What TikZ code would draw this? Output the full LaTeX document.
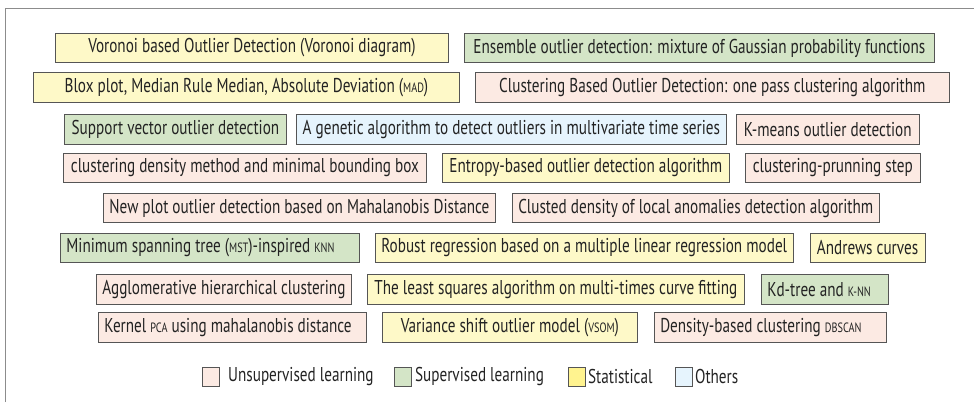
\documentclass[tikz,border=0pt]{standalone}
\usepackage{fontspec}
\setmainfont{PT Sans}[FakeStretch=0.76]
\usepackage{xcolor}
\usepackage{tikz}
\usetikzlibrary{positioning}
\definecolor{unsupcolor}{RGB}{252, 234, 227}
\definecolor{supcolor}{RGB}{212, 229, 199}
\definecolor{statcolor}{RGB}{254, 249, 200}
\definecolor{othercolor}{RGB}{230, 244, 253}
\definecolor{statkey}{RGB}{255, 243, 143}
\definecolor{boxline}{RGB}{85, 85, 85}
\definecolor{textgray}{RGB}{35, 35, 35}
\newcommand{\acr}[1]{{\fontsize{13.5}{14}\selectfont #1}}
\newcommand{\lbox}[2]{\makebox[#1][l]{#2}}

\begin{document}
\begin{tikzpicture}[
    x=1pt, y=-1pt,
    font=\fontsize{20}{21}\selectfont, text=textgray,
    algo/.style={draw=boxline, line width=0.9pt, minimum height=29.5pt, inner xsep=6pt, inner ysep=0pt, anchor=west},
    unsup/.style={algo, fill=unsupcolor},
    sup/.style={algo, fill=supcolor},
    stat/.style={algo, fill=statcolor},
    other/.style={algo, fill=othercolor},
    keybox/.style={draw=boxline, line width=0.9pt, minimum width=17pt, minimum height=19pt, inner sep=0pt, anchor=west},
    keytext/.style={anchor=west, inner sep=0pt}
]
    \useasboundingbox (0,0) rectangle (974,402);
    % Frame
    \draw[gray!90, line width=1pt] (5,402) -- (5,8) -- (974,8);

    % Row 1
    \node[stat, minimum width=393pt] (voronoi) at (55,48) {Voronoi based Outlier Detection (Voronoi diagram)};
    \node[sup, minimum width=470pt, right=15pt of voronoi] (ensemble) {Ensemble outlier detection: mixture of Gaussian probability functions};
    % Row 2
    \node[stat, minimum width=426pt] (boxplot) at (33,87.5) {Blox plot, Median Rule Median, Absolute Deviation (\acr{MAD})};
    \node[unsup, minimum width=474pt, right=15pt of boxplot] (onepass) {Clustering Based Outlier Detection: one pass clustering algorithm};
    % Row 3
    \node[sup, minimum width=222pt] (svm) at (64,129.5) {Support vector outlier detection};
    \node[other, minimum width=430pt, right=9pt of svm] (genetic) {A genetic algorithm to detect outliers in multivariate time series};
    \node[unsup, minimum width=183pt, right=9pt of genetic] (kmeans) {K-means outlier detection};
    % Row 4
    \node[unsup, minimum width=363pt] (bbox) at (63,168) {clustering density method and minimal bounding box};
    \node[stat, minimum width=287pt, right=15pt of bbox] (entropy) {Entropy-based outlier detection algorithm};
    \node[unsup, minimum width=175pt, right=15pt of entropy] (pruning) {clustering-prunning step};
    % Row 5
    \node[unsup, minimum width=391pt] (mahal) at (103,208) {New plot outlier detection based on Mahalanobis Distance};
    \node[unsup, minimum width=367pt, right=16pt of mahal] (clusted) {Clusted density of local anomalies detection algorithm};
    % Row 6
    \node[sup] (mst) at (60,248) {\lbox{287pt}{Minimum spanning tree (\acr{MST})-inspired \acr{KNN}}};
    \node[stat, minimum width=416pt, right=15pt of mst] (robust) {Robust regression based on a multiple linear regression model};
    \node[stat, minimum width=115pt, right=16pt of robust] (andrews) {Andrews curves};
    % Row 7
    \node[unsup, minimum width=255pt] (agglo) at (96,289.5) {Agglomerative hierarchical clustering};
    \node[stat, minimum width=377pt, right=15pt of agglo] (lsq) {The least squares algorithm on multi-times curve fitting};
    \node[sup, right=16pt of lsq] (kdtree) {\lbox{115pt}{Kd-tree and \acr{K-NN}}};
    % Row 8
    \node[unsup] (kpca) at (98,327.5) {\lbox{256pt}{Kernel \acr{PCA} using mahalanobis distance}};
    \node[stat, minimum width=255pt, right=15pt of kpca] (vsom) {Variance shift outlier model (\acr{VSOM})};
    \node[unsup, right=16pt of vsom] (dbscan) {\lbox{220pt}{Density-based clustering \acr{DBSCAN}}};

    % Legend
    \node[keybox, fill=unsupcolor] (keyunsup) at (202,376.5) {};
    \node[keytext] (lblunsup) at (228,376.5) {Unsupervised learning};
    \node[keybox, fill=supcolor] (keysup) at (394,376.5) {};
    \node[keytext, right=3pt of keysup] (lblsup) {Supervised learning};
    \node[keybox, fill=statkey] (keystat) at (568,376.5) {};
    \node[keytext, right=2pt of keystat] (lblstat) {Statistical};
    \node[keybox, fill=othercolor] (keyother) at (675,376.5) {};
    \node[keytext, right=2pt of keyother] (lblother) {Others};
\end{tikzpicture}
\end{document}
